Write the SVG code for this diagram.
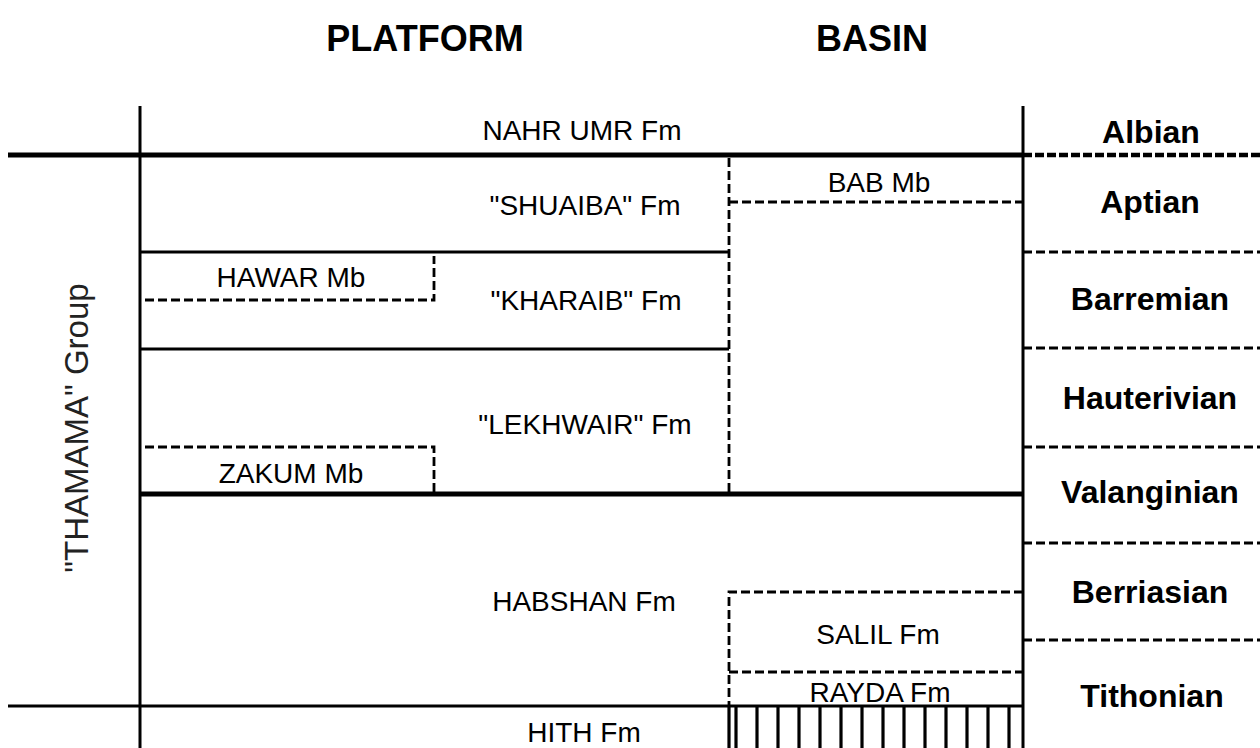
<svg xmlns="http://www.w3.org/2000/svg" width="1260" height="748" viewBox="0 0 1260 748">
<style>
  .bg{fill:#fff}
  .ln{stroke:#000;fill:none;stroke-linecap:butt}
  .thick{stroke-width:5}
  .thin{stroke-width:3}
  .dash{stroke-width:2.8;stroke-dasharray:9,4}
  .dashb{stroke-width:4.5;stroke-dasharray:9,3}
  .hatch{stroke-width:3.2}
  text{font-family:"Liberation Sans",Arial,sans-serif;fill:#000}
  .hdr{font-size:36px;font-weight:bold;text-anchor:middle}
  .fm{font-size:28px;text-anchor:middle}
  .stage{font-size:32px;font-weight:bold;text-anchor:middle}
  .grp{font-size:33px;text-anchor:middle;fill:#222}
</style>
<rect class="bg" x="0" y="0" width="1260" height="748"/>
<g id="headers">
  <text class="hdr" x="425" y="51">PLATFORM</text>
  <text class="hdr" x="872" y="51">BASIN</text>
</g>
<g id="connectors">
  <line class="ln thin" x1="140" y1="106" x2="140" y2="748"/>
  <line class="ln thin" x1="1023" y1="106" x2="1023" y2="748"/>
  <line class="ln thick" x1="8" y1="155" x2="1023" y2="155"/>
  <line class="ln dashb" x1="1023" y1="155" x2="1260" y2="155"/>
  <line class="ln thin" x1="140" y1="252" x2="729" y2="252"/>
  <line class="ln thin" x1="140" y1="349" x2="729" y2="349"/>
  <line class="ln thick" x1="140" y1="494" x2="1023" y2="494"/>
  <line class="ln thin" x1="8" y1="706" x2="1023" y2="706"/>
  <line class="ln dash" x1="729" y1="158" x2="729" y2="494"/>
  <line class="ln dash" x1="729" y1="202" x2="1023" y2="202"/>
  <polyline class="ln dash" points="145,300 434,300 434,256"/>
  <polyline class="ln dash" points="145,447 434,447 434,494"/>
  <polyline class="ln dash" points="1023,592 729,592 729,706"/>
  <line class="ln dash" x1="729" y1="672" x2="1023" y2="672"/>
  <line class="ln dash" x1="1023" y1="252" x2="1260" y2="252"/>
  <line class="ln dash" x1="1023" y1="348" x2="1260" y2="348"/>
  <line class="ln dash" x1="1023" y1="447" x2="1260" y2="447"/>
  <line class="ln dash" x1="1023" y1="543" x2="1260" y2="543"/>
  <line class="ln dash" x1="1023" y1="640" x2="1260" y2="640"/>
  <g id="hatch" class="ln hatch">
    <line x1="729" y1="706" x2="729" y2="748"/>
    <line x1="736" y1="706" x2="736" y2="748"/>
    <line x1="757" y1="706" x2="757" y2="748"/>
    <line x1="778" y1="706" x2="778" y2="748"/>
    <line x1="799" y1="706" x2="799" y2="748"/>
    <line x1="820" y1="706" x2="820" y2="748"/>
    <line x1="841" y1="706" x2="841" y2="748"/>
    <line x1="862" y1="706" x2="862" y2="748"/>
    <line x1="883" y1="706" x2="883" y2="748"/>
    <line x1="904" y1="706" x2="904" y2="748"/>
    <line x1="925" y1="706" x2="925" y2="748"/>
    <line x1="946" y1="706" x2="946" y2="748"/>
    <line x1="967" y1="706" x2="967" y2="748"/>
    <line x1="988" y1="706" x2="988" y2="748"/>
    <line x1="1009" y1="706" x2="1009" y2="748"/>
  </g>
</g>
<g id="group-thamama"><text class="grp" transform="translate(88,428) rotate(-90)">"THAMAMA"  Group</text></g>
<g id="nahr-umr"><text class="fm" x="582" y="140">NAHR UMR Fm</text></g>
<g id="shuaiba"><text class="fm" x="585" y="215">"SHUAIBA" Fm</text></g>
<g id="bab"><text class="fm" x="879" y="192">BAB Mb</text></g>
<g id="hawar"><text class="fm" x="291" y="287">HAWAR Mb</text></g>
<g id="kharaib"><text class="fm" x="586" y="310">"KHARAIB" Fm</text></g>
<g id="lekhwair"><text class="fm" x="585" y="434">"LEKHWAIR" Fm</text></g>
<g id="zakum"><text class="fm" x="291" y="483">ZAKUM Mb</text></g>
<g id="habshan"><text class="fm" x="584" y="611">HABSHAN Fm</text></g>
<g id="salil"><text class="fm" x="878" y="644">SALIL Fm</text></g>
<g id="rayda"><text class="fm" x="880" y="702">RAYDA Fm</text></g>
<g id="hith"><text class="fm" x="584" y="742">HITH Fm</text></g>
<g id="stages">
  <text class="stage" x="1151" y="143">Albian</text>
  <text class="stage" x="1150" y="213">Aptian</text>
  <text class="stage" x="1150" y="310">Barremian</text>
  <text class="stage" x="1150" y="409">Hauterivian</text>
  <text class="stage" x="1150" y="503">Valanginian</text>
  <text class="stage" x="1150" y="603">Berriasian</text>
  <text class="stage" x="1152" y="707">Tithonian</text>
</g>
</svg>
